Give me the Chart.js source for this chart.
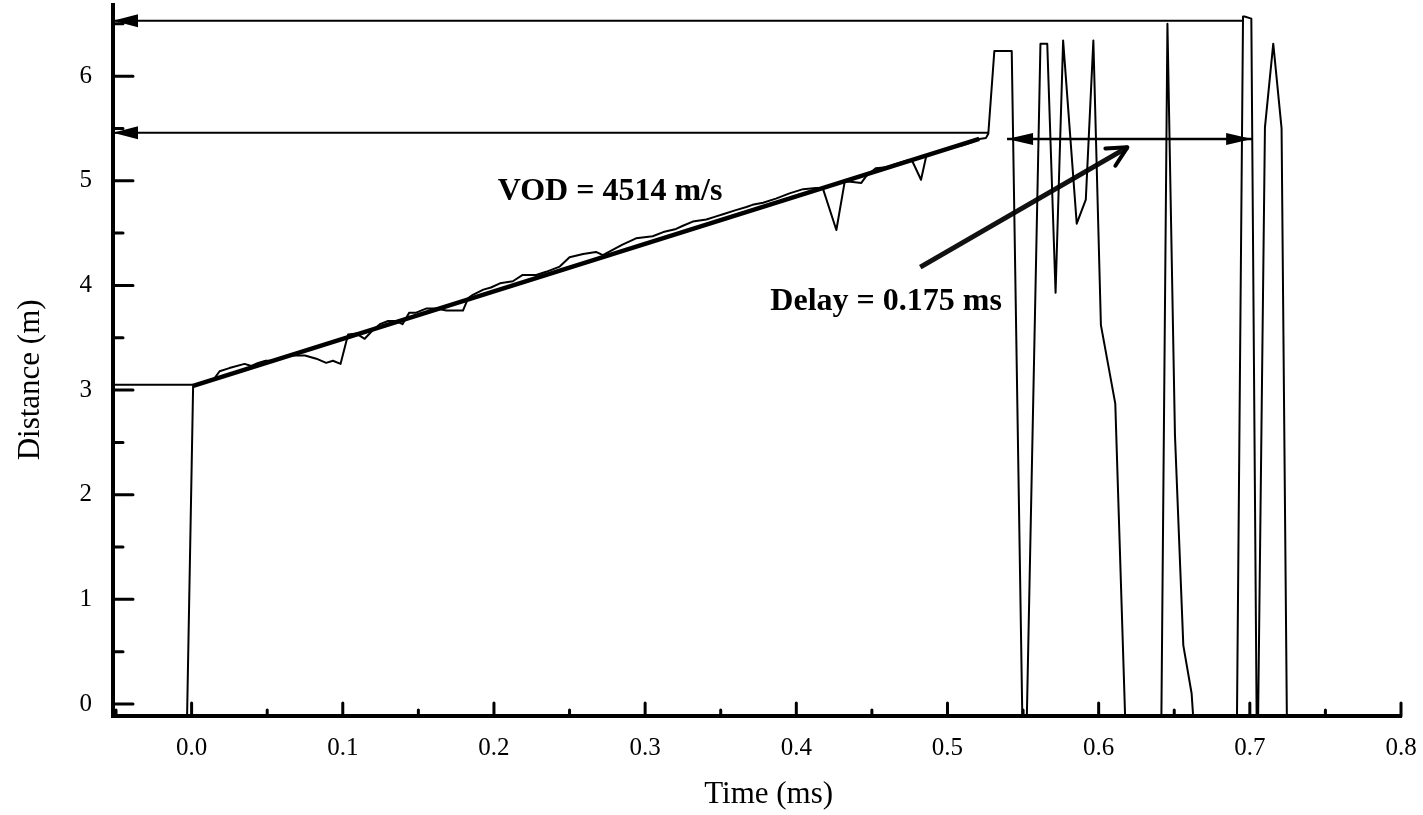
<!DOCTYPE html>
<html>
<head>
<meta charset="utf-8">
<script src="https://cdn.jsdelivr.net/npm/chart.js@4/dist/chart.umd.min.js"></script>
<style>
  html, body { margin: 0; padding: 0; background: #fff; }
  canvas { display: block; }
</style>
</head>
<body>
<canvas id="vodChart" width="1423" height="815"></canvas>
<script>
// Time (ms) and distance (m)
const timeMs = [
  -0.003, 0.001, 0.015, 0.0185, 0.025, 0.035, 0.0395, 0.044, 0.049, 0.055,
  0.059, 0.067, 0.075, 0.0825, 0.089, 0.0935, 0.0985, 0.1035, 0.109, 0.1145,
  0.119, 0.1245, 0.130, 0.1355, 0.1395, 0.144, 0.1485, 0.1555, 0.162, 0.1685,
  0.1795, 0.183, 0.186, 0.193, 0.198, 0.204, 0.2125, 0.219, 0.228, 0.2345,
  0.2435, 0.250, 0.259, 0.2675, 0.272, 0.285, 0.294, 0.305, 0.312, 0.3205,
  0.325, 0.3315, 0.3405, 0.347, 0.3515, 0.360, 0.367, 0.371, 0.378, 0.3865,
  0.3955, 0.4045, 0.413, 0.4175, 0.4265, 0.432, 0.436, 0.443, 0.446, 0.4525,
  0.4595, 0.466, 0.4745, 0.477, 0.4825, 0.486, 0.4925, 0.501, 0.510, 0.5165,
  0.521, 0.5255, 0.527, 0.531, 0.5425, 0.5495, 0.5525, 0.5615, 0.566, 0.5715,
  0.5765, 0.5855, 0.5915, 0.5965, 0.6015, 0.611, 0.6175, 0.6415, 0.6455, 0.6505,
  0.656, 0.6615, 0.6625, 0.6915, 0.6955, 0.6965, 0.701, 0.7045, 0.7055, 0.710,
  0.7155, 0.721, 0.7245
];
const distanceM = [
  -0.115, 3.04, 3.11, 3.18, 3.21, 3.25, 3.23, 3.26, 3.28, 3.28,
  3.31, 3.33, 3.33, 3.30, 3.26, 3.28, 3.25, 3.53, 3.54, 3.49,
  3.56, 3.63, 3.66, 3.66, 3.63, 3.74, 3.74, 3.78, 3.78, 3.76,
  3.76, 3.88, 3.91, 3.96, 3.98, 4.02, 4.04, 4.10, 4.10, 4.13,
  4.18, 4.27, 4.30, 4.32, 4.29, 4.39, 4.45, 4.47, 4.51, 4.54,
  4.57, 4.61, 4.63, 4.66, 4.68, 4.72, 4.75, 4.77, 4.79, 4.83,
  4.88, 4.92, 4.93, 4.93, 4.53, 4.99, 4.99, 4.98, 5.04, 5.12,
  5.13, 5.16, 5.20, 5.18, 5.01, 5.24, 5.27, 5.31, 5.34, 5.37,
  5.40, 5.41, 5.45, 6.24, 6.24, -0.115, -0.115, 6.31, 6.31, 3.93,
  6.34, 4.59, 4.82, 6.34, 3.62, 2.87, -0.115, -0.115, 6.50, 2.56,
  0.56, 0.10, -0.115, -0.115, 6.57, 6.57, 6.55, -0.115, -0.115, 5.51,
  6.31, 5.50, -0.115
];

// VOD fit line (4514 m/s)
const fitT = [0.001, 0.521];
const fitD = [3.04, 5.40];

// horizontal reference levels drawn from the axis
const levelD = [3.05, 5.46, 6.53];
const levelEndT = [0.001, 0.527, 0.6955];

// delay span and pointer
const delayT = [0.5394, 0.7015];
const delayD = [5.40, 5.40];
const pointerT = [0.482, 0.619];
const pointerD = [4.175, 5.32];

// axis ticks
const xMajor = [0, 0.1, 0.2, 0.3, 0.4, 0.5, 0.6, 0.7, 0.8];
const xMinor = [-0.05, 0.05, 0.15, 0.25, 0.35, 0.45, 0.55, 0.65, 0.75];
const yMajor = [0, 1, 2, 3, 4, 5, 6];
const yMinor = [0.5, 1.5, 2.5, 3.5, 4.5, 5.5, 6.5];

const X_MIN = -0.052, X_MAX = 0.8;
const Y_MIN = -0.115, Y_MAX = 6.68;

const SERIF = "'Liberation Serif', 'Times New Roman', serif";

const notes = [
  { text: 'VOD = 4514 m/s', t: 0.2768, d: 4.90 },
  { text: 'Delay = 0.175 ms', t: 0.4594, d: 3.84 }
];

function pts(xs, ys) {
  return xs.map((x, i) => ({ x: x, y: ys[i] }));
}

const lineDs = (data, width, extra) => Object.assign({
  data: data,
  showLine: true,
  borderColor: '#000',
  backgroundColor: '#000',
  borderWidth: width,
  pointRadius: 0,
  tension: 0,
  borderJoinStyle: 'round'
}, extra || {});

const datasets = [
  lineDs(pts(timeMs, distanceM), 2),
  lineDs(pts(fitT, fitD), 4.5),
  lineDs(pts(delayT, delayD), 2.5, { arrows: [{ at: 'start', len: 26, half: 6 }, { at: 'end', len: 26, half: 6 }] }),
  lineDs(pts(pointerT, pointerD), 5, { borderColor: '#111', arrows: [{ at: 'end', open: true, len: 22, angle: 0.47 }] })
];
levelD.forEach((d, i) => {
  const ds = lineDs(pts([X_MIN, levelEndT[i]], [d, d]), 2);
  if (i > 0) ds.arrows = [{ at: 'start', len: 25, half: 6.5 }];
  datasets.push(ds);
});

// arrowheads at line ends, placed from the element positions
const arrowPlugin = {
  id: 'arrowHeads',
  afterDatasetsDraw(chart) {
    const ctx = chart.ctx;
    chart.data.datasets.forEach((ds, i) => {
      if (!ds.arrows) return;
      const els = chart.getDatasetMeta(i).data;
      ds.arrows.forEach(a => {
        const tip = a.at === 'start' ? els[0] : els[els.length - 1];
        const prev = a.at === 'start' ? els[1] : els[els.length - 2];
        const ang = Math.atan2(tip.y - prev.y, tip.x - prev.x);
        ctx.save();
        ctx.fillStyle = '#000';
        ctx.strokeStyle = '#000';
        if (a.open) {
          ctx.lineWidth = 4;
          ctx.lineCap = 'round';
          ctx.beginPath();
          [ang + Math.PI - a.angle, ang + Math.PI + a.angle].forEach(b => {
            ctx.moveTo(tip.x, tip.y);
            ctx.lineTo(tip.x + a.len * Math.cos(b), tip.y + a.len * Math.sin(b));
          });
          ctx.stroke();
        } else {
          const bx = tip.x - a.len * Math.cos(ang), by = tip.y - a.len * Math.sin(ang);
          const px = -Math.sin(ang) * a.half, py = Math.cos(ang) * a.half;
          ctx.beginPath();
          ctx.moveTo(tip.x, tip.y);
          ctx.lineTo(bx + px, by + py);
          ctx.lineTo(bx - px, by - py);
          ctx.closePath();
          ctx.fill();
        }
        ctx.restore();
      });
    });
  }
};

// inward tick marks
const tickPlugin = {
  id: 'innerTicks',
  afterDraw(chart) {
    const { ctx, scales: { x, y } } = chart;
    const base = y.getPixelForValue(Y_MIN);
    const left = x.getPixelForValue(X_MIN);
    ctx.save();
    ctx.strokeStyle = '#000';
    ctx.lineWidth = 3;
    ctx.lineCap = 'round';
    ctx.beginPath();
    xMajor.forEach(v => { const p = x.getPixelForValue(v); ctx.moveTo(p, base); ctx.lineTo(p, base - 13); });
    xMinor.forEach(v => { const p = x.getPixelForValue(v); ctx.moveTo(p, base); ctx.lineTo(p, base - 6); });
    yMajor.forEach(v => { const p = y.getPixelForValue(v); ctx.moveTo(left, p); ctx.lineTo(left + 20, p); });
    yMinor.forEach(v => { const p = y.getPixelForValue(v); ctx.moveTo(left, p); ctx.lineTo(left + 10, p); });
    ctx.stroke();
    ctx.restore();
  }
};

// text labels in data coordinates
const notePlugin = {
  id: 'notes',
  afterDraw(chart) {
    const { ctx, scales: { x, y } } = chart;
    ctx.save();
    ctx.fillStyle = '#000';
    ctx.font = 'bold 32px ' + SERIF;
    ctx.textAlign = 'center';
    ctx.textBaseline = 'middle';
    notes.forEach(n => ctx.fillText(n.text, x.getPixelForValue(n.t), y.getPixelForValue(n.d)));
    ctx.restore();
  }
};

new Chart(document.getElementById('vodChart'), {
  type: 'scatter',
  data: { datasets: datasets },
  options: {
    responsive: false,
    animation: false,
    layout: { padding: { top: 5, right: 22, left: 0, bottom: 0 } },
    plugins: { legend: { display: false }, tooltip: { enabled: false } },
    scales: {
      x: {
        type: 'linear',
        min: X_MIN,
        max: X_MAX,
        afterBuildTicks: s => { s.ticks = xMajor.map(v => ({ value: v })); },
        afterFit: s => { s.height = 99; s.paddingLeft = 0; s.paddingRight = 0; },
        grid: { display: false, drawTicks: false },
        border: { display: true, color: '#000', width: 4 },
        ticks: {
          color: '#000',
          padding: 17,
          maxRotation: 0,
          font: { family: SERIF, size: 25 },
          callback: v => v.toFixed(1)
        },
        title: {
          display: true,
          text: '   Time (ms)',
          color: '#000',
          font: { family: SERIF, size: 31 },
          padding: { top: 0, bottom: 2 }
        }
      },
      y: {
        type: 'linear',
        min: Y_MIN,
        max: Y_MAX,
        afterBuildTicks: s => { s.ticks = yMajor.map(v => ({ value: v })); },
        afterFit: s => { s.width = 113; s.paddingTop = 0; s.paddingBottom = 0; },
        grid: { display: false, drawTicks: false },
        border: { display: true, color: '#000', width: 4 },
        ticks: {
          color: '#000',
          padding: 21,
          font: { family: SERIF, size: 25 },
          callback: v => String(v)
        },
        title: {
          display: true,
          text: 'Distance (m)     ',
          color: '#000',
          font: { family: SERIF, size: 31 },
          padding: { top: 12, bottom: 0 }
        }
      }
    }
  },
  plugins: [arrowPlugin, tickPlugin, notePlugin]
});
</script>
</body>
</html>
